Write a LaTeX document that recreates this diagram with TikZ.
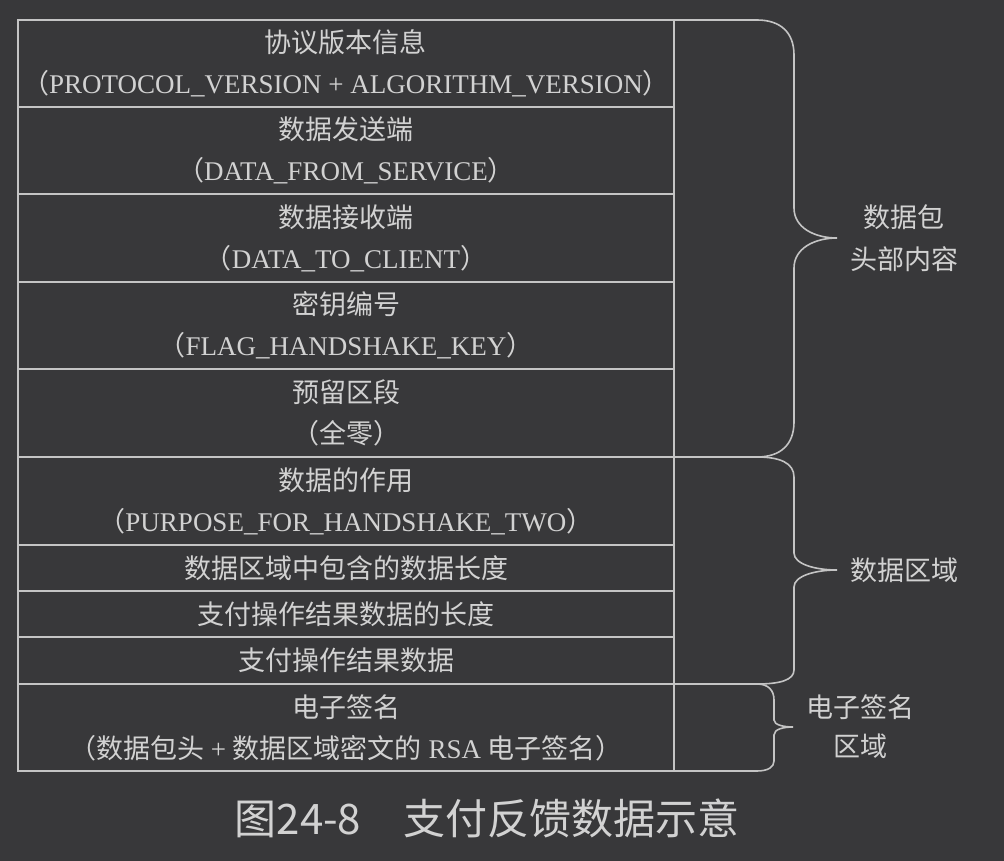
\documentclass[tikz,border=0pt]{standalone}
\usepackage{fontspec}
\setmainfont{Liberation Serif}
\newfontfamily\cjk{Noto Sans CJK SC}
\usepackage{xcolor}
\usepackage{tikz}
\usetikzlibrary{positioning}
\definecolor{bgdark}{HTML}{38383A}
\definecolor{rule}{HTML}{C4C4C4}
\definecolor{ink}{HTML}{D2D2D2}
\newcommand{\zh}[1]{{\cjk #1}}
\tikzstyle{row}=[draw=rule, line width=1.6pt, minimum width=656pt, inner sep=0pt, outer sep=0pt, align=center, text=ink, font=\fontsize{27}{41}\selectfont]
\tikzstyle{part}=[text=ink, align=center, inner sep=0pt, font=\fontsize{27}{42}\selectfont\cjk]
\tikzstyle{rim}=[draw=rule, line width=1.6pt]

\begin{document}
\begin{tikzpicture}[x=1pt, y=-1pt]
        % Canvas
        \fill[bgdark] (0,0) rectangle (1004,861);
        \useasboundingbox (0,0) rectangle (1004,861);

        % Header rows
        \node[row, minimum height=87pt] (proto) at (346,63.5) {\zh{协议版本信息}\\\zh{（}PROTOCOL\_VERSION + ALGORITHM\_VERSION\zh{）}};
        \node[row, minimum height=87pt, below=0pt of proto] (sender) {\zh{数据发送端}\\\zh{（}DATA\_FROM\_SERVICE\zh{）}};
        \node[row, minimum height=88pt, below=0pt of sender] (receiver) {\zh{数据接收端}\\\zh{（}DATA\_TO\_CLIENT\zh{）}};
        \node[row, minimum height=87pt, below=0pt of receiver] (keyno) {\zh{密钥编号}\\\zh{（}FLAG\_HANDSHAKE\_KEY\zh{）}};
        \node[row, minimum height=88pt, below=0pt of keyno] (reserved) {\zh{预留区段}\\\zh{（全零）}};

        % Data rows
        \node[row, minimum height=88pt, below=0pt of reserved] (purpose) {\zh{数据的作用}\\\zh{（}PURPOSE\_FOR\_HANDSHAKE\_TWO\zh{）}};
        \node[row, minimum height=46pt, below=0pt of purpose] (datalen) {\zh{数据区域中包含的数据长度}};
        \node[row, minimum height=46pt, below=0pt of datalen] (resultlen) {\zh{支付操作结果数据的长度}};
        \node[row, minimum height=47pt, below=0pt of resultlen] (result) {\zh{支付操作结果数据}};

        % Signature row
        \node[row, minimum height=87pt, below=0pt of result] (sign) {\zh{电子签名}\\\zh{（数据包头} + \zh{数据区域密文的} RSA \zh{电子签名）}};

        % Brace ends and tips
        \coordinate (hdtop) at (757,20);
        \coordinate (hdtip) at (837,238);
        \coordinate (dttop) at (757,457);
        \coordinate (dttip) at (837,570);
        \coordinate (sgtop) at (757,684);
        \coordinate (sgtip) at (793,727);
        \coordinate (sgbot) at (757,771);

        % Lines running out to the braces
        \draw[rim] (proto.north east) -- (hdtop);
        \draw[rim] (reserved.south east) -- (dttop);
        \draw[rim] (result.south east) -- (sgtop);
        \draw[rim] (sign.south east) -- (sgbot);

        % Braces
        \draw[rim] (hdtop) .. controls (780,20) and (794,32) .. (794,55) -- (794,208)
            .. controls (794,228) and (815,238) .. (hdtip)
            .. controls (815,238) and (794,248) .. (794,268) -- (794,422)
            .. controls (794,445) and (780,457) .. (dttop);
        \draw[rim] (dttop) .. controls (780,457) and (794,463) .. (794,477) -- (794,553)
            .. controls (794,564) and (815,570) .. (dttip)
            .. controls (815,570) and (794,576) .. (794,587) -- (794,670)
            .. controls (794,680) and (780,684) .. (sgtop);
        \draw[rim] (sgtop) .. controls (768,684) and (774,690) .. (774,700) -- (774,720)
            .. controls (774,725) and (784,727) .. (sgtip)
            .. controls (784,727) and (774,729) .. (774,735) -- (774,761)
            .. controls (774,767) and (768,771) .. (sgbot);

        % Brace labels
        \node[part, right=13pt of hdtip] (hdlbl) {数据包\\头部内容};
        \node[part, right=13pt of dttip] (dtlbl) {数据区域};
        \node[part, right=13pt of sgtip, font=\fontsize{27}{39}\selectfont\cjk] (sglbl) {电子签名\\区域};

        % Caption
        \node[text=ink, font=\fontsize{42}{42}\selectfont\cjk] (caption) at (487,818) {图24-8　支付反馈数据示意};
\end{tikzpicture}
\end{document}
